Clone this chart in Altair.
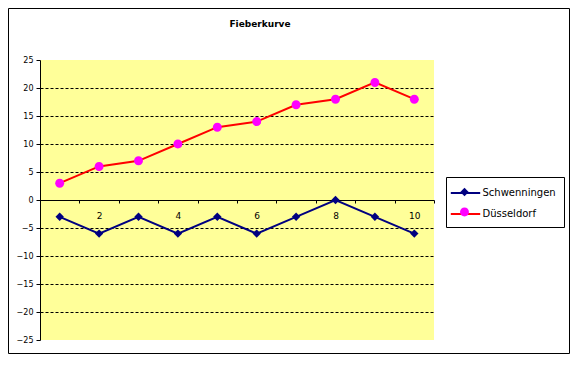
import altair as alt
import pandas as pd

# ---- data ----
tage = list(range(1, 11))
schwenningen = [-3, -6, -3, -6, -3, -6, -3, 0, -3, -6]
duesseldorf = [3, 6, 7, 10, 13, 14, 17, 18, 21, 18]
serien = ["Schwenningen", "Düsseldorf"]
y_werte = [-25, -20, -15, -10, -5, 0, 5, 10, 15, 20, 25]
titel = "Fieberkurve"

# ---- styling ----
NAVY = "#000080"
RED = "#FF0000"
MAGENTA = "#FF00FF"
YELLOW = "#FFFF99"
FONT = "DejaVu Sans"
W, H = 394, 280
SYM = 196  # legend / marker symbol size (r = 7px)
line_path = "M-2.1,0L2.1,0"
diamond_path = "M0,-0.6L0.6,0L0,0.6L-0.6,0Z"
circle_path = "M-0.64,0A0.64,0.64 0 1,0 0.64,0A0.64,0.64 0 1,0 -0.64,0Z"

rows = []
for name, vals in zip(serien, [schwenningen, duesseldorf]):
    for t, v in zip(tage, vals):
        rows.append({"tag": t, "wert": v, "serie": name})
df = pd.DataFrame(rows)

x = alt.X(
    "tag:O",
    scale=alt.Scale(paddingInner=0, paddingOuter=0),
    axis=alt.Axis(
        title=None,
        offset=-H * 25 / 50,
        labelExpr="datum.value % 2 == 0 ? datum.label : ''",
        labelAngle=0,
        tickBand="extent",
        domainColor="black",
        tickColor="black",
        tickSize=3,
        labelPadding=8,
        labelFont=FONT,
        labelFontSize=9,
        labelColor="black",
        grid=False,
    ),
)
y = alt.Y(
    "wert:Q",
    scale=alt.Scale(domain=[-25, 25], nice=False, zero=False),
    axis=alt.Axis(
        title=None,
        values=y_werte,
        grid=True,
        gridDash=[3, 2],
        gridColor="black",
        gridOpacity={"condition": {"test": "abs(datum.value) == 25 || datum.value == 0", "value": 0}, "value": 1},
        domainColor="black",
        tickColor="black",
        tickSize=4,
        labelPadding=3,
        labelFont=FONT,
        labelFontSize=8,
        labelColor="black",
    ),
)

legend_common = dict(
    orient="none",
    legendX=406,
    legendY=117,
    title=None,
    symbolSize=SYM,
    padding=8,
    rowPadding=8,
    symbolOffset=3.5,
    labelOffset=9,
    labelFont=FONT,
    labelFontSize=10,
)

lines = alt.Chart(df).mark_line(strokeWidth=2).encode(
    x=x,
    y=y,
    color=alt.Color(
        "serie:N",
        scale=alt.Scale(domain=serien, range=[NAVY, RED]),
        legend=alt.Legend(
            symbolType=line_path,
            symbolStrokeWidth=2,
            strokeColor="black",
            fillColor="white",
            labelColor="black",
            **legend_common,
        ),
    ),
)

marker_legend = alt.Legend(
    symbolStrokeWidth=0,
    symbolOpacity=1,
    labelExpr="''",
    **legend_common,
)
points = alt.Chart(df).mark_point(filled=True, size=SYM, opacity=1, strokeWidth=0).encode(
    x=x,
    y=y,
    fill=alt.Fill("serie:N", sort=None, scale=alt.Scale(range=[NAVY, MAGENTA]), legend=marker_legend),
    shape=alt.Shape("serie:N", sort=None, scale=alt.Scale(range=[diamond_path, circle_path]), legend=marker_legend),
)

frame = alt.Chart(pd.DataFrame({"k": [0]})).mark_rect(
    fill="transparent", stroke="black", strokeWidth=1
).encode(
    x=alt.value(-31.5), x2=alt.value(529.5), y=alt.value(-51.5), y2=alt.value(293.5)
)

chart = (
    alt.layer(lines, points, frame)
    .properties(
        width=W,
        height=H,
        title=alt.TitleParams(
            titel, font=FONT, fontSize=9, fontWeight="bold", color="black",
            anchor="middle", frame="group", dx=23, offset=-21,
        ),
        autosize=alt.AutoSizeParams(type="none"),
        padding={"left": 32, "top": 52, "right": 136, "bottom": 14},
        background="white",
    )
    .configure_view(fill=YELLOW, stroke=None)
)

chart.save("out.html", embed_options={"renderer": "svg", "actions": False})
